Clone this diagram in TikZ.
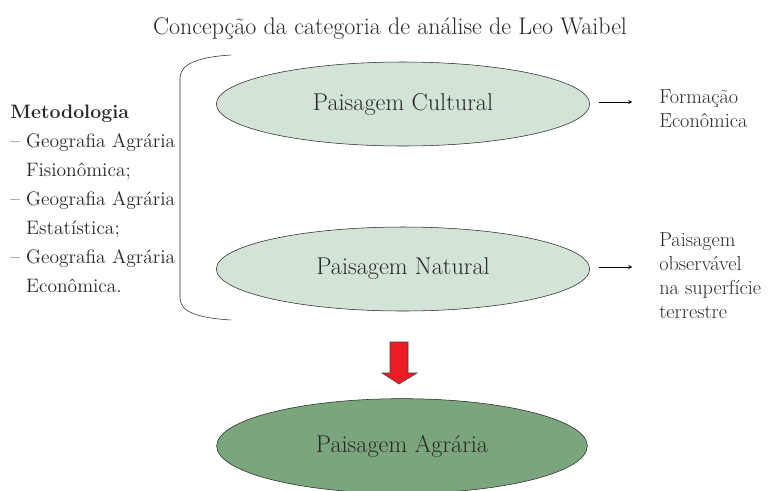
\documentclass[tikz,border=0pt]{standalone}
\usepackage{tikz}
\usetikzlibrary{shapes.geometric}
\usetikzlibrary{arrows,arrows.meta}
\usetikzlibrary{calc,positioning}
\definecolor{texto}{RGB}{40,40,40}
\definecolor{verdeclaro}{RGB}{211,227,214}
\definecolor{verdeescuro}{RGB}{123,165,124}
\definecolor{vermelho}{RGB}{237,28,36}

\begin{document}
\begin{tikzpicture}[x=0.75pt, y=-0.75pt, texto,
    paisagem/.style={ellipse, draw=black!85, thin, minimum width=280pt, minimum height=63pt, inner sep=0pt,
        font=\fontsize{18.2}{22}\selectfont},
    lista/.style={align=left, inner sep=0pt, anchor=west, font=\fontsize{15.2}{18}\selectfont}]

    \useasboundingbox (0,0) rectangle (770,490);

    \node[font=\fontsize{18}{22}\selectfont] (titulo) at (390,29) {Concepção da categoria de análise de Leo Waibel};

    % chave
    \draw[black!85, thin] (231,55) .. controls (198,57) and (180,64) .. (180,78) -- (180,298) .. controls (180,312) and (198,318) .. (231,320);

    \node[lista, font=\fontsize{14.6}{21.75}\selectfont] (metodo) at (10,199) {\textbf{Metodologia}\\
        -- Geografia Agrária\\
        \hphantom{-- }Fisionômica;\\
        -- Geografia Agrária\\
        \hphantom{-- }Estatística;\\
        -- Geografia Agrária\\
        \hphantom{-- }Econômica.};

    \node[paisagem, fill=verdeclaro] (cultural) at (403,104) {Paisagem Cultural};
    \node[paisagem, fill=verdeclaro] (natural) at (403,269) {Paisagem Natural};
    \node[paisagem, fill=verdeescuro, minimum width=278pt, minimum height=71pt] (agraria) at (402,446) {Paisagem Agrária};

    \node[lista] (formacao) at (659,109) {Formação\\Econômica};
    \node[lista] (observavel) at (659,276) {Paisagem\\observável\\na superfície\\terrestre};

    \draw[-stealth, black, shorten <=6.5pt, shorten >=20pt] ([yshift=1.5pt]cultural.east) -- ([yshift=1.5pt]cultural.east -| formacao.west);
    \draw[-stealth, black, shorten <=6.5pt, shorten >=20pt] ([yshift=1.5pt]natural.east) -- ([yshift=1.5pt]natural.east -| observavel.west);

    % seta vermelha
    \filldraw[fill=vermelho, draw=black!75, thin] (390,342) -- (408,342) -- (408,373) -- (417,373) -- (399,384) -- (382,373) -- (390,373) -- cycle;

\end{tikzpicture}
\end{document}
